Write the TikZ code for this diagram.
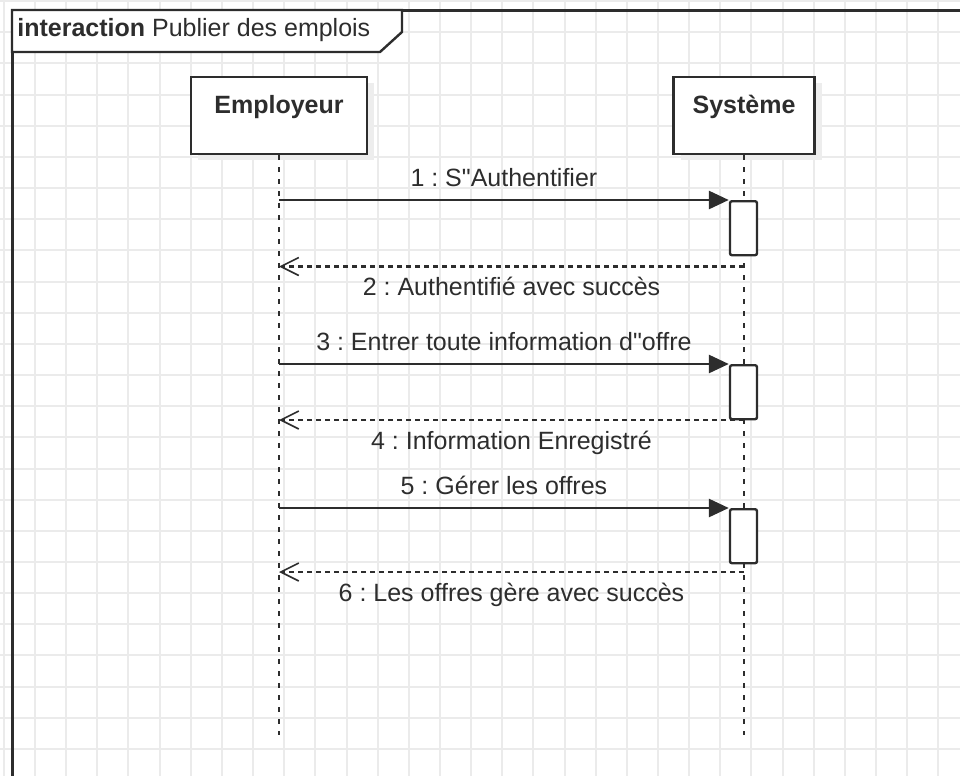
\documentclass[tikz,border=0pt]{standalone}
\usepackage{fontspec}
\setmainfont{Liberation Sans}[Ligatures=TeXOff]
\usetikzlibrary{arrows.meta,shadows}

\definecolor{gridgray}{RGB}{235,235,235}
\definecolor{ink}{RGB}{45,45,45}
\newcommand{\umlfont}{\fontsize{12.5}{15}\selectfont\frenchspacing}

\tikzset{
  head/.style={draw=ink, line width=1.2pt, fill=white, font=\umlfont\bfseries, text=ink,
    text height=14.5pt, text depth=17.2pt, inner ysep=3.4pt, inner xsep=0pt, anchor=north,
    drop shadow={shadow xshift=3.5pt, shadow yshift=-3pt, fill=black!7, opacity=1}},
  lifeline/.style={draw=ink, line width=1pt, dash pattern=on 2.5pt off 3.5pt},
  activation/.style={draw=ink, line width=1.2pt, fill=white, minimum width=13.5pt,
    minimum height=27pt, inner sep=0pt, anchor=north, rounded corners=1pt},
  msg/.style={draw=ink, line width=1.4pt, -{Triangle[length=10pt,width=9pt]}},
  reply/.style={draw=ink, line width=1.4pt, dash pattern=on 2.5pt off 2pt,
    -{Straight Barb[length=9pt,width=9pt,line width=0.8pt]}},
  lbl/.style={font=\umlfont, text=ink, text height=9pt, text depth=2.5pt, inner sep=1pt},
}

\begin{document}
\begin{tikzpicture}[x=0.5pt, y=-0.5pt]
  \useasboundingbox (0,0) rectangle (960,776);

  % background grid
  \foreach \i in {0,...,30}
    \draw[gridgray, line width=1pt] (3.85+31.15*\i,0) -- (3.85+31.15*\i,776);
  \foreach \j in {0,...,24}
    \draw[gridgray, line width=1pt] (0,1.1+31.16*\j) -- (960,1.1+31.16*\j);

  % frame and its tab
  \draw[ink, line width=1.5pt] (12,800) -- (12,10) -- (980,10);
  \draw[ink, line width=1.2pt, fill=white] (12,10) -- (402,10) -- (402,32) -- (380,52) -- (12,52) -- cycle;
  \node[anchor=base west, font=\umlfont, text=ink, inner sep=0pt] (title) at (17,37) {\textbf{interaction} Publier des emplois};

  % lifelines
  \node[head, minimum width=88pt] (emp) at (279,76) {Employeur};
  \node[head, minimum width=70.5pt] (sys) at (744,76) {Système};
  \coordinate (empEnd) at (279,735);
  \coordinate (sysEnd) at (744,735);
  \draw[lifeline] (emp.south) -- (empEnd);
  \draw[lifeline] (sys.south) -- (sysEnd);

  \node[activation] (act1) at (743.5,200) {};
  \node[activation] (act2) at (743.5,364) {};
  \node[activation] (act3) at (743.5,508) {};

  % points on the lifelines
  \coordinate (e1) at (279,200);
  \coordinate (e2) at (279,266.5);
  \coordinate (e3) at (279,364);
  \coordinate (e4) at (279,420);
  \coordinate (e5) at (279,508);
  \coordinate (e6) at (279,572);
  \coordinate (s2) at (744,266.5);
  \coordinate (s4) at (744,420);
  \coordinate (s6) at (744,572);

  % messages
  \path (e1) edge[msg] node[lbl, above=2.5pt] {1 : S"Authentifier} (act1.north west);
  \path (s2) edge[reply] node[lbl, below=4pt] {2 : Authentifié avec succès} (e2);
  \path (e3) edge[msg] node[lbl, above=2.5pt] {3 : Entrer toute information d"offre} (act2.north west);
  \path (s4) edge[reply] node[lbl, below=4pt] {4 : Information Enregistré} (e4);
  \path (e5) edge[msg] node[lbl, above=2.5pt] {5 : Gérer les offres} (act3.north west);
  \path (s6) edge[reply] node[lbl, below=4pt] {6 : Les offres gère avec succès} (e6);
\end{tikzpicture}
\end{document}
